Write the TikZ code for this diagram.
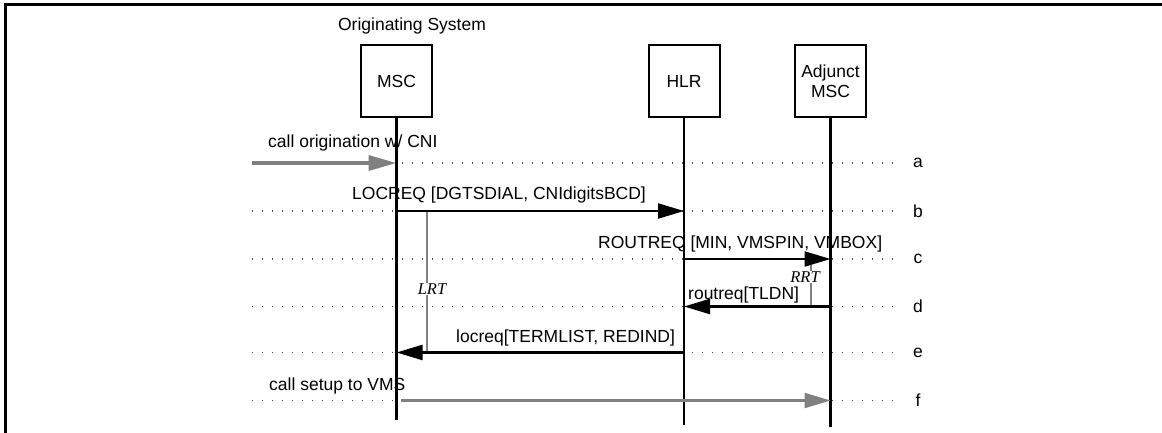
\documentclass[tikz,border=0pt]{standalone}
\usepackage{fontspec}
\setmainfont{Liberation Sans}
\newfontfamily\timerfont{Liberation Serif}
\usetikzlibrary{arrows.meta}
\definecolor{msggray}{HTML}{808080}
\tikzset{
  x=1pt, y=-1pt,
  every node/.style={font=\fontsize{17.5}{20}\selectfont, inner sep=0pt},
  entity/.style={draw, line width=2pt, minimum width=71pt, minimum height=72pt, align=center},
  lifeline/.style={line width=2.3pt},
  gridline/.style={line width=1.4pt, dash pattern=on 1.4pt off 8.6pt, black!70},
  msg/.style={line width=2.2pt, -{Triangle[length=26pt,width=15pt]}},
  graymsg/.style={line width=2.2pt, msggray, -{Triangle[length=26pt,width=15pt]}},
  thickgraymsg/.style={line width=3.5pt, msggray, -{Triangle[length=28pt,width=15pt]}},
  timer/.style={line width=2.2pt, msggray},
  timerlabel/.style={font=\timerfont\itshape\fontsize{16.5}{18}\selectfont, fill=white, inner sep=1pt},
  msglabel/.style={anchor=base west},
}
\begin{document}
\begin{tikzpicture}
\useasboundingbox (0,0) rectangle (1162,433);
% frame
\draw[line width=2.5pt] (5.5,433) -- (5.5,4.5) -- (1162,4.5);

% title
\node[anchor=base] (title) at (412,31) {Originating System};

% entities
\node[entity] (msc) at (396.5,81) {MSC};
\node[entity] (hlr) at (684,81) {HLR};
\node[entity] (adj) at (830.5,81) {Adjunct\\MSC};

% rows
\coordinate (ra) at (0,163);
\coordinate (rb) at (0,211);
\coordinate (rc) at (0,259);
\coordinate (rd) at (0,306.5);
\coordinate (re) at (0,352.5);
\coordinate (rf) at (0,400.5);

% grid lines
\foreach \r in {ra, rb, rc, rd, re, rf}{
  \draw[gridline] (252,0 |- \r) -- (893,0 |- \r);
}
% row labels
\node (la) at (918,163) {a};
\node (lb) at (918,211) {b};
\node (lc) at (918,259) {c};
\node (ld) at (918,306.5) {d};
\node (le) at (918,352.5) {e};
\node (lf) at (918,400.5) {f};

% lifelines
\coordinate (msc-end) at (396.5,420);
\coordinate (hlr-end) at (684,425);
\coordinate (adj-end) at (830.5,427);
\draw[lifeline] (msc.south) -- (msc-end);
\draw[lifeline] (hlr.south) -- (hlr-end);
\draw[lifeline] (adj.south) -- (adj-end);

% timers
\coordinate (lrt-top) at (427,211);
\coordinate (lrt-bot) at (427,352.5);
\draw[timer] (lrt-top) -- (lrt-bot);
\node[timerlabel] (lrt) at (432,289) {LRT};
\coordinate (rrt-top) at (811,259);
\coordinate (rrt-bot) at (811,306.5);
\draw[timer] (rrt-top) -- (rrt-bot);
\node[timerlabel] (rrt) at (805,277) {RRT};

% messages
\coordinate (src) at (252,163);
\draw[thickgraymsg] (src) -- (msc |- ra);
\node[msglabel] (ma) at (268,147) {call origination w/ CNI};

\draw[msg] (msc |- rb) -- (hlr |- rb);
\node[msglabel] (mb) at (352,200) {LOCREQ [DGTSDIAL, CNIdigitsBCD]};

\draw[msg] (hlr |- rc) -- (adj |- rc);
\node[msglabel] (mc) at (598,248) {ROUTREQ [MIN, VMSPIN, VMBOX]};

\draw[msg] (adj |- rd) -- (hlr |- rd);
\node[msglabel] (md) at (688,299) {routreq[TLDN]};

\draw[msg] (hlr |- re) -- (msc |- re);
\node[msglabel] (me) at (456,342) {locreq[TERMLIST, REDIND]};

\coordinate (fstart) at (401,400.5);
\draw[graymsg] (fstart) -- (adj |- rf);
\node[msglabel] (mf) at (269,390) {call setup to VMS};
\end{tikzpicture}
\end{document}
